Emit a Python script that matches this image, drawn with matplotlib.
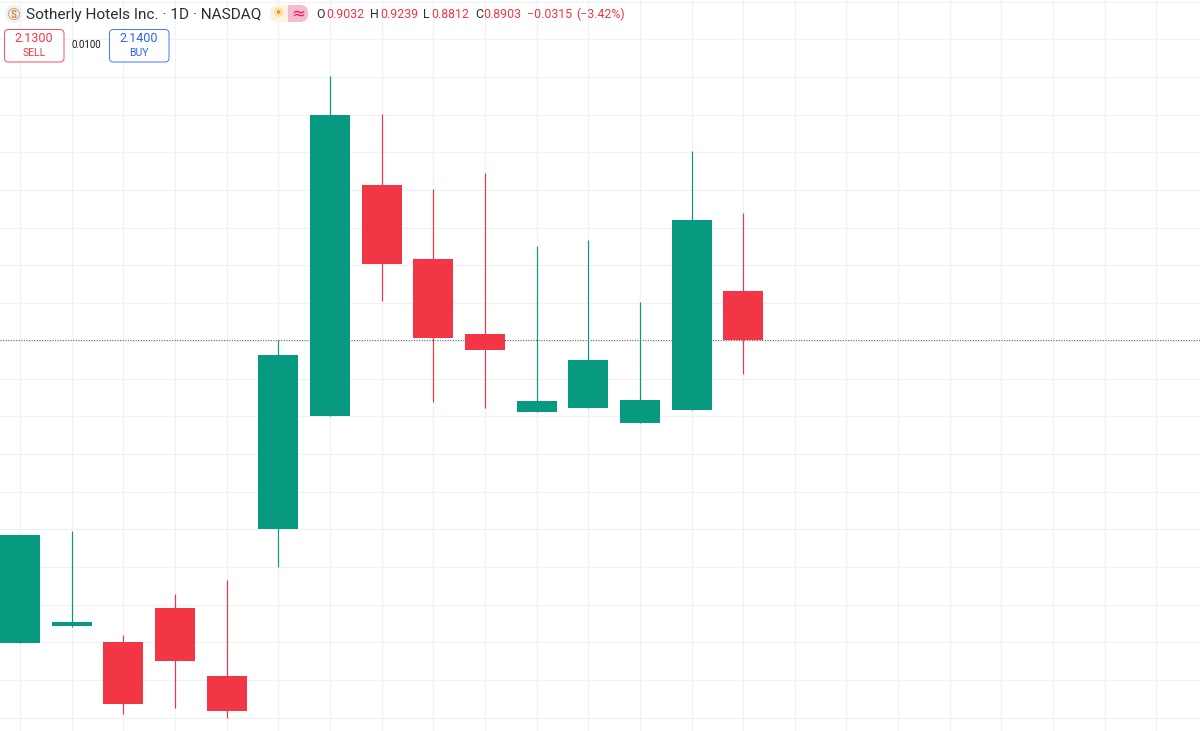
"""Daily candlestick chart of Sotherly Hotels in a trading-terminal style."""

import matplotlib.pyplot as plt
import numpy as np
from matplotlib.patches import Circle, FancyBboxPatch, Rectangle
from matplotlib.ticker import MultipleLocator

plt.rcParams["font.family"] = ["Roboto", "DejaVu Sans"]

opens = [0.8099, 0.8144, 0.8102, 0.8192, 0.8011, 0.8401, 0.8701, 0.9314,
         0.9118, 0.8919, 0.8712, 0.8722, 0.8682, 0.8717, 0.9032]
highs = [0.8385, 0.8396, 0.8120, 0.8229, 0.8266, 0.8903, 0.9603, 0.9502,
         0.9303, 0.9346, 0.9152, 0.9168, 0.9003, 0.9404, 0.9239]
lows = [0.8099, 0.8141, 0.7911, 0.7927, 0.7900, 0.8301, 0.8701, 0.9006,
        0.8738, 0.8722, 0.8712, 0.8722, 0.8682, 0.8717, 0.8812]
closes = [0.8385, 0.8155, 0.7937, 0.8051, 0.7919, 0.8863, 0.9499, 0.9104,
          0.8908, 0.8876, 0.8741, 0.8850, 0.8743, 0.9221, 0.8903]
last_price = 0.8903

title = "Sotherly Hotels Inc. · 1D · NASDAQ"
ohlc_labels = ["O", "H", "L", "C"]
ohlc_values = ["0.9032", "0.9239", "0.8812", "0.8903"]
change_text = "−0.0315"
change_pct_text = "(−3.42%)"
sell_price, buy_price, spread = "2.1300", "2.1400", "0.0100"

GREEN = "#089981"
RED = "#f23645"
GRID = "#f0f1f3"
BLUE = "#2962ff"
DARK = "#2a2e39"
ONE_PX = 0.72

fig = plt.figure(figsize=(12, 7.31), dpi=100)
ax = fig.add_axes([0, 0, 1, 1])

# One bar is 51.65 px wide, 0.01 of price is 37.7 px tall
ax.set_xlim(-20.1 / 51.65, (1200 - 20.1) / 51.65)
ax.set_ylim(0.78650, 0.98040)
ax.xaxis.set_major_locator(MultipleLocator(1))
ax.yaxis.set_major_locator(MultipleLocator(0.01))
ax.grid(True, color=GRID, linewidth=0.85)
ax.set_axisbelow(True)
ax.tick_params(left=False, bottom=False, labelleft=False, labelbottom=False)
for spine in ax.spines.values():
    spine.set_visible(False)

ax.axhline(last_price, color=DARK, linewidth=ONE_PX, linestyle=(0, (1, 1.6)), alpha=0.8, zorder=1)

x = np.arange(len(opens))
colors = [GREEN if c >= o else RED for o, c in zip(opens, closes)]
ax.vlines(x, lows, highs, colors=colors, linewidth=0.85, zorder=2)
ax.bar(
    x,
    np.abs(np.array(closes) - np.array(opens)),
    bottom=np.minimum(opens, closes),
    width=0.775,
    color=colors,
    linewidth=0,
    zorder=3,
)

# Header overlay, in pixel coordinates
ov = fig.add_axes([0, 0, 1, 1], facecolor="none")
ov.set_xlim(0, 1200)
ov.set_ylim(731, 0)
ov.axis("off")

ov.add_patch(Circle((14, 14), 9, facecolor="#eef1f8", edgecolor="none"))
ov.add_patch(Circle((14, 14), 5.5, facecolor="none", edgecolor="#e0a060", linewidth=ONE_PX))
ov.text(14, 14.5, "S", color="#d08a3c", fontsize=7, fontweight="bold", ha="center", va="center")
ov.text(26, 14.5, title, color=DARK, fontsize=11.05, va="center")

badge = FancyBboxPatch(
    (270, 5), 38, 17, boxstyle="round,pad=0,rounding_size=8",
    facecolor="#fff3e0", edgecolor="none",
)
ov.add_patch(badge)
badge_right = FancyBboxPatch(
    (270, 5), 38, 17, boxstyle="round,pad=0,rounding_size=8",
    facecolor="#f5bbd0", edgecolor="none",
)
ov.add_patch(badge_right)
clip = Rectangle((288, 0), 30, 30, transform=ov.transData)
badge_right.set_clip_path(clip)
ov.text(279, 13.5, "☀", color="#ff9800", fontsize=9, ha="center", va="center", family="DejaVu Sans")
ov.text(298, 13.5, "≈", color="#e91e63", fontsize=12, ha="center", va="center", family="DejaVu Sans")

label_xs = [316, 370, 423, 475]
value_xs = [326, 380, 431, 483]
for lab, val, lx, vx in zip(ohlc_labels, ohlc_values, label_xs, value_xs):
    ov.text(lx, 14.5, lab, color=DARK, fontsize=8.9, va="center")
    ov.text(vx, 14.5, val, color=RED, fontsize=8.9, va="center")
ov.text(527, 14.5, change_text, color=RED, fontsize=8.9, va="center")
ov.text(576, 14.5, change_pct_text, color=RED, fontsize=8.9, va="center")

for left, color, price, side in [(4, RED, sell_price, "SELL"), (109, BLUE, buy_price, "BUY")]:
    ov.add_patch(
        FancyBboxPatch(
            (left + 0.5, 29.5), 59.5, 32.5, boxstyle="round,pad=0,rounding_size=4",
            facecolor="white", edgecolor=color, linewidth=ONE_PX, alpha=0.85,
        )
    )
    ov.text(left + 30, 38.5, price, color=color, fontsize=9, ha="center", va="center")
    ov.text(left + 30, 53, side, color=color, fontsize=7.5, ha="center", va="center")
ov.text(86.5, 45.5, spread, color="#131722", fontsize=7, ha="center", va="center")

fig.savefig("out.png", dpi=100)
